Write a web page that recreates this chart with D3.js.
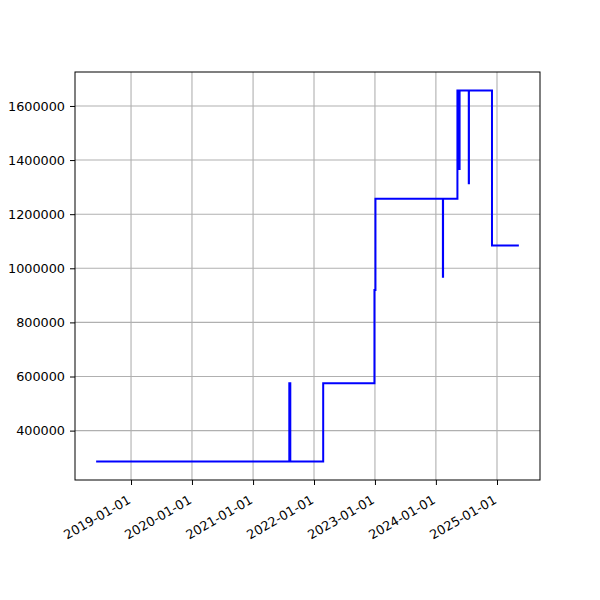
<!DOCTYPE html>
<html>
<head>
<meta charset="utf-8">
<script src="https://cdn.jsdelivr.net/npm/d3@7"></script>
<style>
  body { margin: 0; background: #fff; }
  svg { display: block; }
  text { font-family: "DejaVu Sans", sans-serif; }
</style>
</head>
<body>
<div id="chart"></div>
<script>
// Change points of the step series (value holds until the next date)
const dates = ["2018-06-06","2021-08-06","2021-08-12","2022-02-25","2022-12-29","2023-01-04",
               "2024-02-12","2024-02-13","2024-05-09","2024-05-21","2024-05-22",
               "2024-07-16","2024-07-17","2024-12-02","2025-05-12"];
const values = [286000, 575000, 286000, 575000, 920000, 1257000,
                969000, 1257000, 1657000, 1367000, 1657000,
                1314000, 1657000, 1084000, 1084000];
const xTickLabels = ["2019-01-01","2020-01-01","2021-01-01","2022-01-01","2023-01-01","2024-01-01","2025-01-01"];
const yTickValues = [400000, 600000, 800000, 1000000, 1200000, 1400000, 1600000];

const W = 600, H = 600;
const margin = {left: 75, right: 60, top: 72, bottom: 120};
const parse = d3.timeParse("%Y-%m-%d");
const data = dates.map((d, i) => ({date: parse(d), value: values[i]}));

const svg = d3.select("#chart").append("svg").attr("width", W).attr("height", H);

const xExt = d3.extent(data, d => d.date);
const xPad = (xExt[1] - xExt[0]) * 0.05;
const x = d3.scaleTime()
  .domain([new Date(+xExt[0] - xPad), new Date(+xExt[1] + xPad)])
  .range([margin.left, W - margin.right]);

const yExt = d3.extent(values);
const yPad = (yExt[1] - yExt[0]) * 0.05;
const y = d3.scaleLinear()
  .domain([yExt[0] - yPad, yExt[1] + yPad])
  .range([H - margin.bottom, margin.top]);

const xTicks = xTickLabels.map(parse);

// grid
const grid = svg.append("g");
grid.selectAll("line.vx").data(xTicks).join("line")
  .attr("x1", d => x(d)).attr("x2", d => x(d))
  .attr("y1", margin.top).attr("y2", H - margin.bottom)
  .attr("stroke", "#b0b0b0").attr("stroke-width", 1.1);
grid.selectAll("line.hy").data(yTickValues).join("line")
  .attr("y1", d => y(d)).attr("y2", d => y(d))
  .attr("x1", margin.left).attr("x2", W - margin.right)
  .attr("stroke", "#b0b0b0").attr("stroke-width", 1.1);

// line
const line = d3.line().x(d => x(d.date)).y(d => y(d.value)).curve(d3.curveStepAfter);
svg.append("path").datum(data)
  .attr("d", line).attr("fill", "none")
  .attr("stroke", "#0000ff").attr("stroke-width", 2);

// axes
const fmt = d3.timeFormat("%Y-%m-%d");
const xAxis = svg.append("g")
  .attr("transform", `translate(0,${H - margin.bottom})`)
  .call(d3.axisBottom(x).tickValues(xTicks).tickFormat(fmt).tickSize(5).tickPadding(4).tickSizeOuter(0));
xAxis.select(".domain").remove();
xAxis.selectAll("text")
  .attr("font-size", 12.8).attr("fill", "#000")
  .attr("text-anchor", "end")
  .attr("dy", "0.7em")
  .attr("transform", "translate(-9,7) rotate(-30)");
xAxis.selectAll(".tick line").attr("stroke", "#000").attr("stroke-width", 1);

const yAxis = svg.append("g")
  .attr("transform", `translate(${margin.left},0)`)
  .call(d3.axisLeft(y).tickValues(yTickValues).tickFormat(d3.format("d")).tickSize(5).tickPadding(5).tickSizeOuter(0));
yAxis.select(".domain").remove();
yAxis.selectAll("text").attr("font-size", 12.8).attr("fill", "#000");
yAxis.selectAll(".tick line").attr("stroke", "#000").attr("stroke-width", 1);

// frame
svg.append("rect")
  .attr("x", margin.left).attr("y", margin.top)
  .attr("width", W - margin.left - margin.right)
  .attr("height", H - margin.top - margin.bottom)
  .attr("fill", "none").attr("stroke", "#000").attr("stroke-width", 1);
</script>
</body>
</html>
